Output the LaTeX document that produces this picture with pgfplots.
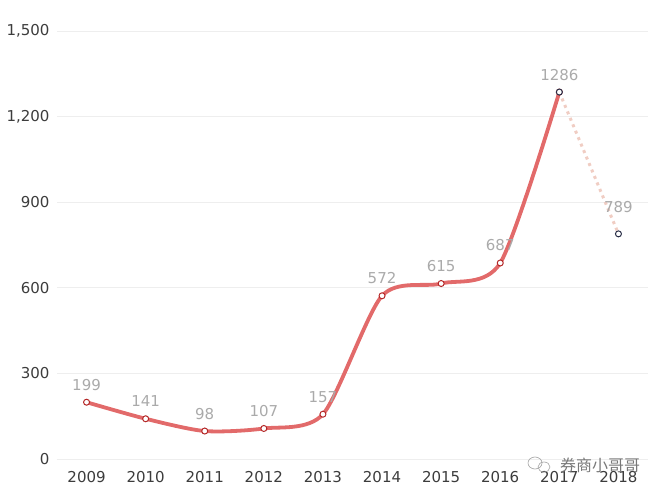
\documentclass[border=0pt]{standalone}
\usepackage{pgfplots}
\pgfplotsset{compat=1.18}
\usepackage{fontspec}
\setmainfont{DejaVu Sans}
\newfontfamily\cjk{Noto Sans CJK SC}
\definecolor{lred}{RGB}{226,106,106}
\definecolor{mred}{RGB}{180,40,40}
\definecolor{pinkd}{RGB}{240,205,195}
\definecolor{navy}{RGB}{40,45,70}
\definecolor{ticktxt}{RGB}{60,60,60}
\definecolor{lbltxt}{RGB}{170,170,170}
\definecolor{gridc}{RGB}{238,238,238}
\definecolor{wm}{RGB}{120,120,120}
\begin{document}
\begin{tikzpicture}
\begin{axis}[
  at={(0,0)}, anchor=south west,
  scale only axis,
  width=591bp, height=428bp,
  xmin=2008.5, xmax=2018.5,
  ymin=0, ymax=1500,
  xtick={2009,...,2018},
  ytick={0,300,600,900,1200,1500},
  x tick label style={/pgf/number format/1000 sep=},
  y tick label style={/pgf/number format/1000 sep={,}},
  /pgf/number format/assume math mode=true,
  tick label style={font=\fontsize{15bp}{17bp}\selectfont, text=ticktxt},
  xticklabel style={yshift=-9bp},
  yticklabel style={xshift=-4bp},
  axis line style={draw=none},
  axis x line*=bottom,
  x axis line style={draw=gridc, line width=0.8bp},
  major tick length=0pt,
  ymajorgrids, grid style={draw=gridc, line width=0.8bp},
  clip=false,
  nodes near coords,
  every node near coord/.style={font=\fontsize{15bp}{17bp}\selectfont, text=lbltxt, yshift=8bp},
  point meta=explicit symbolic,
]
\addplot[pinkd, line width=3bp, dash pattern=on 3bp off 4bp, no markers, nodes near coords={}] coordinates {(2017,1286) (2018,789)};
\addplot[lred, line width=3.8bp, smooth, tension=0.45, mark=*, mark size=3bp,
  mark options={fill=white, draw=mred, line width=1bp, solid}] coordinates {
  (2009,199) [199]
  (2010,141) [141]
  (2011,98) [98]
  (2012,107) [107]
  (2013,157) [157]
  (2014,572) [572]
  (2015,615) [615]
  (2016,687) [687]
  (2017,1286) [1286]
};
\addplot[only marks, mark=*, mark size=3bp, mark options={fill=white, draw=navy, line width=1bp}, nodes near coords={}] coordinates {(2017,1286) (2018,789)};
\addplot[only marks, mark=none, nodes near coords, every node near coord/.style={font=\fontsize{15bp}{17bp}\selectfont, text=lbltxt, yshift=18bp}, point meta=explicit symbolic] coordinates {(2018,789) [789]};
\end{axis}
% watermark
\begin{scope}[shift={(478bp,-4bp)}, draw=wm!70, line width=0.6bp]
  \draw (0,0) ellipse (7bp and 6bp);
  \draw (9bp,-4bp) ellipse (6bp and 5bp);
\end{scope}
\node[anchor=west, text=wm, font=\cjk\fontsize{16bp}{18bp}\selectfont, inner sep=0pt] at (503bp,-6bp) {券商小哥哥};
\pgfresetboundingbox
\useasboundingbox (-57bp,-38bp) rectangle (603bp,459bp);
\end{tikzpicture}
\end{document}
